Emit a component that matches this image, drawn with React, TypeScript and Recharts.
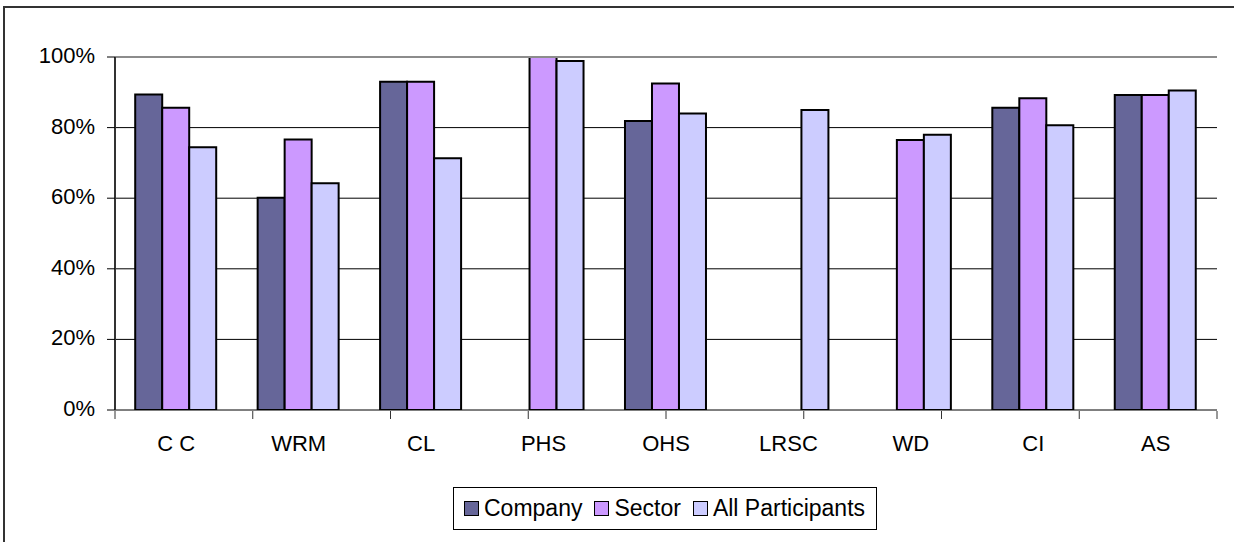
import React from 'react';
import { BarChart, Bar, XAxis, YAxis, CartesianGrid, Legend, ReferenceLine } from 'recharts';

const categories = ['C C', 'WRM', 'CL', 'PHS', 'OHS', 'LRSC', 'WD', 'CI', 'AS'];
const company = [89.4, 60.1, 93.0, null, 81.9, null, null, 85.6, 89.2];
const sector = [85.6, 76.6, 93.0, 100, 92.5, null, 76.5, 88.3, 89.2];
const allParticipants = [74.4, 64.2, 71.3, 98.9, 84.0, 85.0, 78.0, 80.7, 90.5];
const yTicks = [0, 20, 40, 60, 80, 100];
const seriesNames = ['Company', 'Sector', 'All Participants'];
const seriesColors = ['#666699', '#CC99FF', '#CCCCFF'];

const data = categories.map((c, i) => ({
  name: c,
  company: company[i],
  sector: sector[i],
  all: allParticipants[i],
}));

const boundaryTicks = categories.map((_, i) => i).concat(categories.length);

const FONT = '"Liberation Sans", Arial, sans-serif';

const LegendBox = () => {
  return (
    <div
      style={{
        boxSizing: 'border-box',
        width: 424,
        height: 43,
        border: '1px solid #000',
        display: 'flex',
        alignItems: 'center',
        paddingLeft: 10,
        fontFamily: FONT,
        fontSize: 23,
        color: '#000',
        background: '#fff',
        whiteSpace: 'nowrap',
      }}
    >
      {seriesNames.map((name, i) => (
        <div key={name} style={{ display: 'flex', alignItems: 'center', marginRight: 12 }}>
          <span
            style={{
              display: 'inline-block',
              boxSizing: 'border-box',
              width: 15,
              height: 15,
              border: '1.5px solid #000',
              background: seriesColors[i],
              marginRight: 5,
            }}
          />
          <span style={{ lineHeight: '23px' }}>{name}</span>
        </div>
      ))}
    </div>
  );
};

const YTick = (props: any) => {
  const { x, y, payload } = props;
  return (
    <text x={x} y={y + 6} textAnchor="end" fontSize={22} fill="#000" fontFamily={FONT}>
      {`${payload.value}%`}
    </text>
  );
};

export default function App() {
  return (
    <div
      style={{
        position: 'absolute',
        left: 0,
        top: 0,
        width: 1234,
        height: 542,
        overflow: 'hidden',
        background: '#fff',
      }}
    >
      <div
        style={{
          position: 'absolute',
          left: 3,
          top: 6,
          width: 1240,
          height: 600,
          borderLeft: '2px solid #333',
          borderTop: '2px solid #333',
        }}
      />
      <div style={{ position: 'absolute', left: 0, top: 0 }}>
        <BarChart
          width={1234}
          height={542}
          data={data}
          margin={{ top: 57, right: 17, bottom: 130, left: 0 }}
          barCategoryGap="16.5%"
          barGap={0}
        >
          <CartesianGrid vertical={false} stroke="#000" strokeWidth={1} />
          <XAxis
            xAxisId="tk"
            type="number"
            domain={[0, categories.length]}
            ticks={boundaryTicks}
            allowDataOverflow
            height={1}
            tickSize={8}
            tickFormatter={() => ''}
            axisLine={false}
            tickLine={{ stroke: '#333', strokeWidth: 1 }}
          />
          <XAxis
            dataKey="name"
            height={1}
            tickSize={0}
            tickMargin={25}
            axisLine={false}
            tickLine={false}
            interval={0}
            tick={{ fontSize: 22, fill: '#000', fontFamily: FONT }}
          />
          <YAxis
            width={115}
            domain={[0, 100]}
            ticks={yTicks}
            allowDataOverflow
            tickSize={8}
            tickMargin={12}
            axisLine={{ stroke: '#333', strokeWidth: 2 }}
            tickLine={{ stroke: '#000', strokeWidth: 1 }}
            tick={<YTick />}
          />
          <ReferenceLine y={100} stroke="#8c8c8c" strokeWidth={2} />
          <ReferenceLine xAxisId="tk" x={categories.length} stroke="#8c8c8c" strokeWidth={2} />
          <Bar dataKey="company" name={seriesNames[0]} fill={seriesColors[0]} stroke="#000" strokeWidth={2} isAnimationActive={false} />
          <Bar dataKey="sector" name={seriesNames[1]} fill={seriesColors[1]} stroke="#000" strokeWidth={2} isAnimationActive={false} />
          <Bar dataKey="all" name={seriesNames[2]} fill={seriesColors[2]} stroke="#000" strokeWidth={2} isAnimationActive={false} />
          <Legend
            verticalAlign="middle"
            align="center"
            layout="horizontal"
            content={<LegendBox />}
            wrapperStyle={{ left: 453, top: 487, width: 424, height: 43 }}
          />
        </BarChart>
      </div>
    </div>
  );
}
